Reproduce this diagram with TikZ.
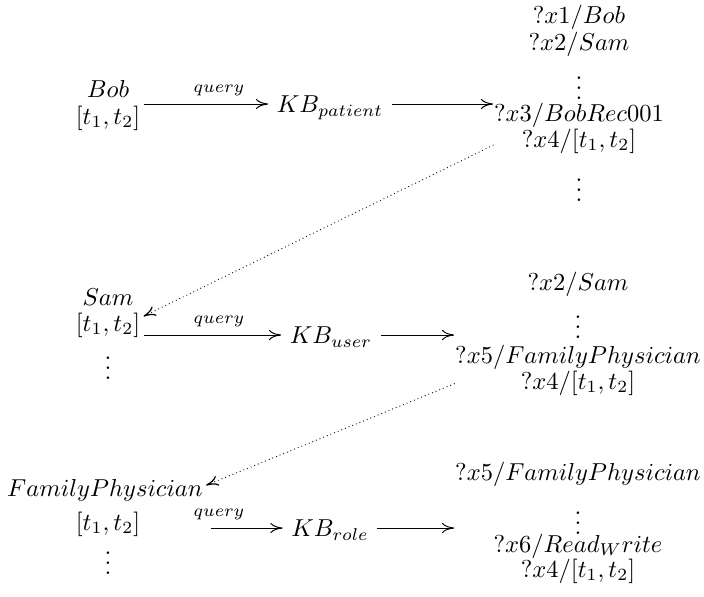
\documentclass[tikz,border=0pt]{standalone}
\usetikzlibrary{arrows.meta,fit}
\newcommand\myvdots{\vbox{\baselineskip4pt \lineskiplimit0pt \hbox{.}\hbox{.}\hbox{.}}}
\begin{document}
\begin{tikzpicture}[x=0.40816pt,y=-0.40816pt,
  txt/.style={inner sep=0pt,anchor=base},
  kb/.style={inner ysep=0pt,inner xsep=3.4pt,text height=6.9pt,text depth=0pt},
  grp/.style={inner sep=0pt},
  lbl/.style={inner sep=0pt,anchor=base},
  arr/.style={-{Computer Modern Rightarrow[length=5pt,width=4.2pt]},line width=0.4pt},
  dotarr/.style={arr,line cap=round,dash pattern=on 0pt off 1.6pt,line width=0.5pt}]
\useasboundingbox (0,0) rectangle (704,597);

% ---------- row 1 ----------
\node[txt] (bob) at (108,97) {$Bob$};
\node[txt] (ta) at (108,124) {$[t_1,t_2]$};
\node[grp,fit=(bob)(ta),inner xsep=1pt] (L1) {};
\node[kb] (kb1) at (330,104) {$KB_{patient}$};
\node[lbl] (q1) at (219,92) {$\scriptstyle query$};

\node[txt] (r11) at (579,24) {$?x1/Bob$};
\node[txt] (r12) at (579,50) {$?x2/Sam$};
\node[txt] (r13) at (579,99.5) {\myvdots};
\node[txt] (r14) at (579,121) {$?x3/BobRec001$};
\node[txt] (r15) at (579,147) {$?x4/[t_1,t_2]$};
\node[txt] (r16) at (579,201) {\myvdots};
\node[grp,fit=(r11)(r12)(r14)(r15)(r16)] (B1) {};

% ---------- row 2 ----------
\node[txt] (sam) at (108,305) {$Sam$};
\node[txt] (tb) at (108,331) {$[t_1,t_2]$};
\node[txt] (vb) at (108,379) {\myvdots};
\node[grp,fit=(sam)(tb)(vb),inner xsep=1pt] (L2) {};
\node[kb] (kb2) at (331,335) {$KB_{user}$};
\node[lbl] (q2) at (219,323) {$\scriptstyle query$};

\node[txt] (r21) at (578,290) {$?x2/Sam$};
\node[txt] (r22) at (578,338) {\myvdots};
\node[txt] (r23) at (578,363) {$?x5/FamilyPhysician$};
\node[txt] (r24) at (578,389) {$?x4/[t_1,t_2]$};
\node[grp,fit=(r21)(r23)(r24)] (B2) {};

% ---------- row 3 ----------
\node[txt] (fam) at (105,496) {$FamilyPhysician$};
\node[txt] (tc) at (108,530) {$[t_1,t_2]$};
\node[txt] (vc) at (108,574) {\myvdots};
\node[grp,fit=(fam)(tc)(vc),inner xsep=1pt] (L3) {};
\node[kb] (kb3) at (330,528) {$KB_{role}$};
\node[lbl] (q3) at (219,516) {$\scriptstyle query$};

\node[txt] (r31) at (578,480) {$?x5/FamilyPhysician$};
\node[txt] (r32) at (578,534) {\myvdots};
\node[txt] (r33) at (578,552) {$?x6/Read_Write$};
\node[txt] (r34) at (578,577) {$?x4/[t_1,t_2]$};
\node[grp,fit=(r31)(r33)(r34)] (B3) {};

% ---------- connectors ----------
\draw[arr] (L1.east |- kb1) -- (kb1.west);
\draw[arr] (kb1.east) -- (kb1.east -| B1.west);
\draw[arr] (L2.east |- kb2) -- (kb2.west);
\draw[arr] (kb2.east) -- (kb2.east -| B2.west);
\draw[arr,shorten <=2pt] (L3.east |- kb3) -- (kb3.west);
\draw[arr] (kb3.east) -- (kb3.east -| B3.west);

\draw[dotarr] (B1) -- (L2);
\draw[dotarr] (B2) -- (L3);
\end{tikzpicture}
\end{document}
